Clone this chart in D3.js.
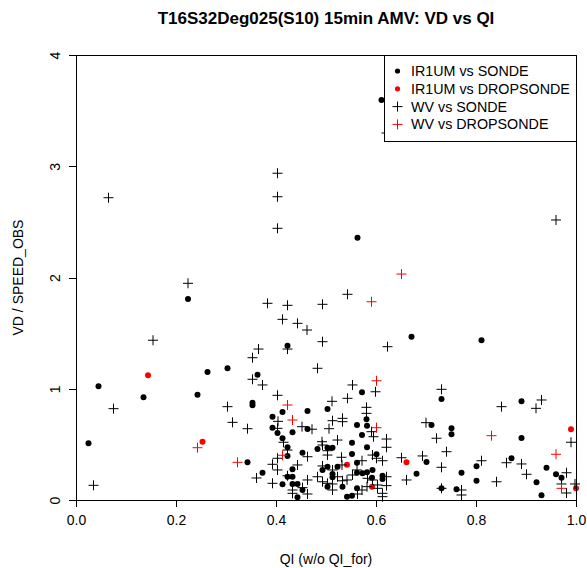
<!DOCTYPE html>
<html lang="en">
	<head>
		<meta charset="utf-8">
		<title>VD vs QI</title>
		<script src="https://d3js.org/d3.v7.min.js" charset="utf-8"></script>
		<style type="text/css">
			body { margin: 0; background: #fff; }
			svg text { font-family: "Liberation Sans", Arial, Helvetica, sans-serif; }
			.axis path, .axis line { fill: none; stroke: #000; shape-rendering: crispEdges; }
			.axis text { font-size: 14px; fill: #000; }
		</style>
	</head>
	<body>
		<script type="text/javascript">

			// [QI, VD/SPEED_OBS]
			const ir1Sonde = [
				[0.611,3.596],[0.563,2.358],[0.224,1.807],[0.671,1.468],[0.811,1.436],[0.423,1.387],
				[0.045,1.022],[0.263,1.151],[0.303,1.184],[0.135,0.923],[0.243,0.947],[0.025,0.510],
				[0.343,0.339],[0.363,1.126],[0.353,0.875],[0.353,0.851],[0.572,0.968],[0.463,0.800],
				[0.503,0.818],[0.413,0.791],[0.393,0.749],[0.581,0.725],[0.393,0.650],[0.463,0.638],
				[0.582,0.668],[0.433,0.609],[0.403,0.602],[0.562,0.674],[0.572,0.584],[0.413,0.555],
				[0.552,0.515],[0.503,0.470],[0.483,0.458],[0.513,0.470],[0.423,0.474],[0.582,0.474],
				[0.423,0.396],[0.453,0.425],[0.552,0.413],[0.562,0.335],[0.601,0.411],[0.681,0.236],
				[0.373,0.245],[0.413,0.141],[0.433,0.276],[0.433,0.209],[0.433,0.144],[0.443,0.144],
				[0.443,0.024],[0.453,0.090],[0.493,0.270],[0.503,0.299],[0.513,0.234],[0.513,0.204],
				[0.523,0.299],[0.533,0.120],[0.542,0.030],[0.552,0.039],[0.562,0.245],[0.582,0.249],
				[0.592,0.200],[0.613,0.218],[0.613,0.189],[0.562,0.105],[0.503,0.120],[0.423,0.209],
				[0.593,0.270],[0.573,0.240],[0.731,0.908],[0.891,0.887],[0.711,0.674],[0.751,0.644],
				[0.751,0.591],[0.891,0.557],[0.701,0.342],[0.731,0.105],[0.761,0.096],[0.771,0.245],
				[0.801,0.303],[0.801,0.173],[0.871,0.375],[0.921,0.159],[0.931,0.042],[0.941,0.290],
				[0.960,0.231],[0.971,0.200]
			]

			const ir1Drop = [
				[0.144,1.121],[0.253,0.524],[0.542,0.317],[0.661,0.339],[0.592,0.120],[0.990,0.636],
				[1.000,0.105]
			]

			const wvSonde = [
				[0.065,2.717],[0.403,2.937],[0.403,2.726],[0.403,2.442],[0.960,2.517],[0.621,3.299],
				[0.224,1.948],[0.543,1.849],[0.383,1.768],[0.423,1.750],[0.493,1.759],[0.413,1.624],
				[0.443,1.588],[0.462,1.528],[0.154,1.436],[0.493,1.423],[0.623,1.378],[0.423,1.357],
				[0.365,1.357],[0.353,1.279],[0.483,1.184],[0.353,1.085],[0.373,1.034],[0.553,1.034],
				[0.075,0.821],[0.035,0.132],[0.303,0.839],[0.313,0.698],[0.343,0.641],[0.361,0.198],
				[0.599,0.973],[0.403,0.941],[0.543,0.914],[0.512,0.887],[0.581,0.833],[0.581,0.779],
				[0.513,0.713],[0.533,0.734],[0.533,0.704],[0.404,0.707],[0.403,0.644],[0.452,0.659],
				[0.472,0.636],[0.506,0.641],[0.591,0.614],[0.595,0.569],[0.621,0.548],[0.415,0.519],
				[0.492,0.524],[0.523,0.539],[0.493,0.494],[0.503,0.443],[0.423,0.449],[0.621,0.474],
				[0.403,0.375],[0.463,0.389],[0.503,0.404],[0.531,0.384],[0.572,0.353],[0.601,0.375],
				[0.613,0.353],[0.651,0.380],[0.661,0.180],[0.393,0.321],[0.403,0.270],[0.393,0.150],
				[0.423,0.218],[0.443,0.315],[0.433,0.060],[0.453,0.111],[0.463,0.054],[0.463,0.180],
				[0.483,0.209],[0.493,0.306],[0.513,0.270],[0.532,0.315],[0.503,0.150],[0.523,0.209],
				[0.533,0.173],[0.542,0.180],[0.562,0.270],[0.572,0.090],[0.582,0.120],[0.593,0.180],
				[0.603,0.135],[0.613,0.060],[0.621,0.209],[0.621,0.129],[0.513,0.144],[0.433,0.090],
				[0.493,0.164],[0.513,0.090],[0.563,0.054],[0.613,0.030],[0.593,0.404],[0.583,0.195],
				[0.553,0.225],[0.603,0.105],[0.693,0.396],[0.731,0.995],[0.851,0.839],[0.920,0.824],
				[0.931,0.899],[0.700,0.695],[0.721,0.555],[0.990,0.519],[0.741,0.434],[0.731,0.294],
				[0.731,0.105],[0.771,0.090],[0.771,0.045],[0.811,0.353],[0.841,0.164],[0.861,0.335],
				[0.891,0.324],[0.901,0.231],[0.981,0.245],[0.971,0.144],[0.981,0.063],[0.998,0.144]
			]

			const wvDrop = [
				[0.651,2.031],[0.591,1.782],[0.601,1.072],[0.423,0.854],[0.433,0.719],[0.601,0.650],
				[0.413,0.402],[0.243,0.470],[0.323,0.339],[0.831,0.578],[0.960,0.411],[0.971,0.105]
			]

			const xTicks = [0, 0.2, 0.4, 0.6, 0.8, 1.0]
			const yTicks = [0, 1, 2, 3, 4]
			const legendLabels = ['IR1UM vs SONDE', 'IR1UM vs DROPSONDE', 'WV vs SONDE', 'WV vs DROPSONDE']

			var w = 587
			var h = 568
			const padL = 76, padR = 576, padT = 55, padB = 500

			const xScale = d3.scaleLinear().domain([0, 1]).range([padL, padR])
			const yScale = d3.scaleLinear().domain([0, 4]).range([padB, padT])

			var svg = d3.select('body').append('svg')
				.attr('width', w)
				.attr('height', h)

			// points
			function dots(data, color) {
				svg.append('g').selectAll('circle')
					.data(data)
					.enter()
					.append('circle')
					.attr('cx', d => xScale(d[0]))
					.attr('cy', d => yScale(d[1]))
					.attr('r', 3)
					.attr('fill', color)
			}
			function crosses(data, color) {
				svg.append('g').selectAll('path')
					.data(data)
					.enter()
					.append('path')
					.attr('d', d => {
						const x = xScale(d[0]), y = yScale(d[1])
						return 'M' + (x - 5) + ',' + y + 'H' + (x + 5) + 'M' + x + ',' + (y - 5) + 'V' + (y + 5)
					})
					.attr('stroke', color)
					.attr('stroke-width', 1)
					.attr('fill', 'none')
			}
			dots(ir1Sonde, '#000')
			dots(ir1Drop, '#ff0000')
			crosses(wvSonde, '#000')
			crosses(wvDrop, '#ff0000')

			// axes
			svg.append('g')
				.attr('class', 'axis')
				.attr('transform', 'translate(0,' + padB + ')')
				.call(d3.axisBottom(xScale).tickValues(xTicks).tickFormat(d3.format('.1f')).tickSize(7).tickPadding(8))
			const yAxis = svg.append('g')
				.attr('class', 'axis')
				.attr('transform', 'translate(' + padL + ',0)')
				.call(d3.axisLeft(yScale).tickValues(yTicks).tickFormat(d3.format('d')).tickSize(7).tickPadding(0))
			yAxis.selectAll('.tick text')
				.attr('transform', 'translate(-21,0) rotate(-90)')
				.attr('text-anchor', 'middle')
				.attr('x', 0)
				.attr('dy', '0.35em')

			svg.append('rect')
				.attr('x', padL).attr('y', padT)
				.attr('width', padR - padL).attr('height', padB - padT)
				.attr('fill', 'none').attr('stroke', '#000')
				.attr('shape-rendering', 'crispEdges')

			// legend
			const lg = svg.append('g')
			lg.append('rect')
				.attr('x', 384).attr('y', padT)
				.attr('width', padR - 384).attr('height', 86)
				.attr('fill', '#fff').attr('stroke', '#000')
				.attr('shape-rendering', 'crispEdges')
			const colors = ['#000', '#ff0000', '#000', '#ff0000']
			legendLabels.forEach((t, i) => {
				const y = 71 + i * 17.8
				if (i < 2) {
					lg.append('circle').attr('cx', 397.5).attr('cy', y).attr('r', 2.6).attr('fill', colors[i])
				} else {
					lg.append('path')
						.attr('d', 'M392.5,' + y + 'H402.5M397.5,' + (y - 5) + 'V' + (y + 5))
						.attr('stroke', colors[i]).attr('fill', 'none')
				}
				lg.append('text')
					.attr('x', 411).attr('y', y)
					.attr('dy', '0.35em')
					.attr('font-size', 14.3)
					.text(t)
			})

			// titles
			svg.append('text')
				.attr('x', (padL + padR) / 2).attr('y', 24)
				.attr('text-anchor', 'middle')
				.attr('font-size', 17).attr('font-weight', 'bold')
				.text('T16S32Deg025(S10) 15min AMV: VD vs QI')
			svg.append('text')
				.attr('x', (padL + padR) / 2).attr('y', 564)
				.attr('text-anchor', 'middle')
				.attr('font-size', 14)
				.text('QI (w/o QI_for)')
			svg.append('text')
				.attr('transform', 'translate(23,' + ((padT + padB) / 2) + ') rotate(-90)')
				.attr('text-anchor', 'middle')
				.attr('font-size', 14)
				.text('VD / SPEED_OBS')

		</script>
	</body>
</html>
